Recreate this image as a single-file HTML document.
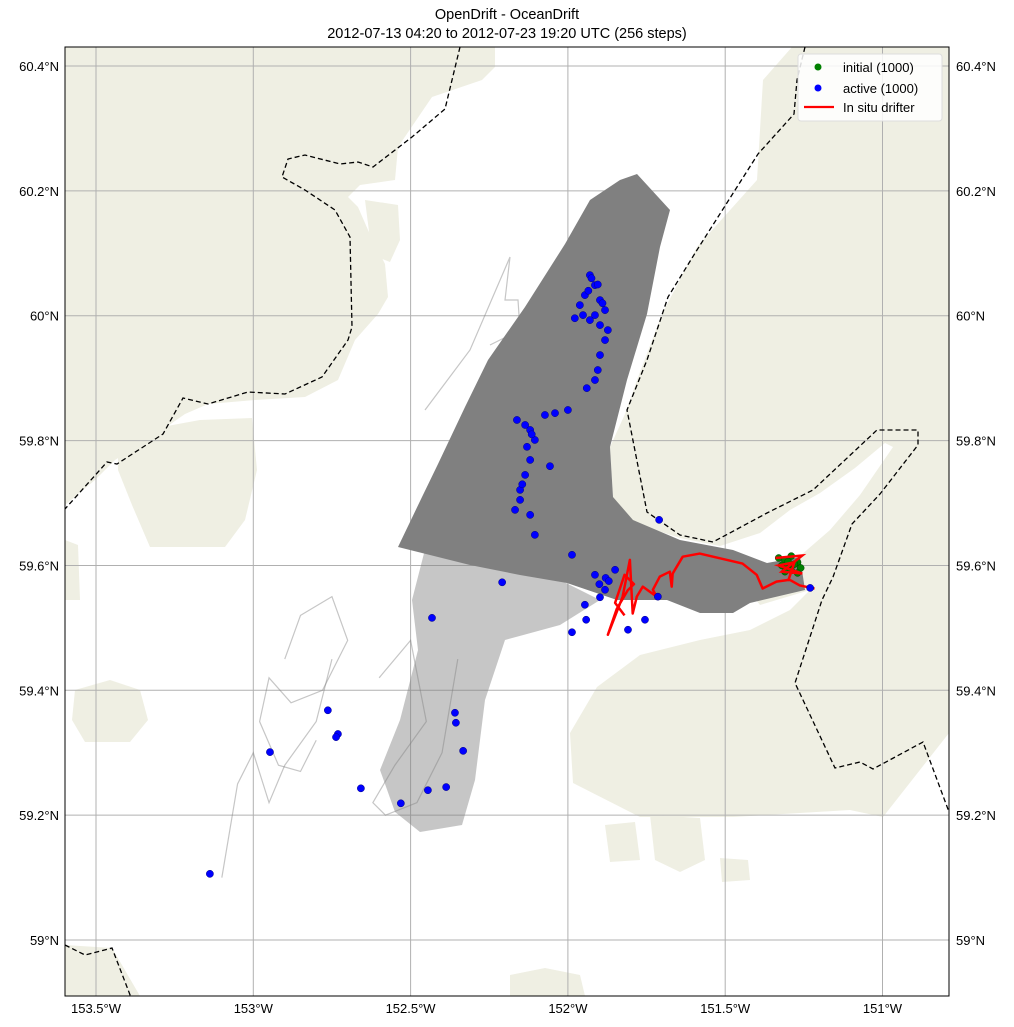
<!DOCTYPE html>
<html><head><meta charset="utf-8">
<style>
html,body{margin:0;padding:0;background:#fff;}
svg{display:block;font-family:"Liberation Sans",sans-serif;}
</style></head>
<body>
<svg id="chart" width="1014" height="1027" viewBox="0 0 1014 1027" xmlns="http://www.w3.org/2000/svg">
<text x="507" y="19" text-anchor="middle" font-size="14.5">OpenDrift - OceanDrift</text>
<text x="507" y="38" text-anchor="middle" font-size="14.5">2012-07-13 04:20 to 2012-07-23 19:20 UTC (256 steps)</text>
<defs><clipPath id="clip"><rect x="65" y="47" width="884" height="949"/></clipPath></defs>
<g clip-path="url(#clip)">
<g fill="#efefe3">
<polygon points="65,47 495,47 495,67 482,80 432,97 398,147 395,180 360,185 348,197 358,207 368,230 385,264 388,297 378,314 355,340 338,380 305,397 255,400 208,404 185,414 162,430 115,460 95,480 65,505"/>
<polygon points="365,200 398,205 400,240 390,262 372,255"/>
<polygon points="118,435 200,420 252,418 257,470 245,520 225,547 150,547 132,505 118,470"/>
<polygon points="65,540 78,545 80,600 65,600"/>
<polygon points="75,690 110,680 140,690 148,720 130,742 85,742 72,720"/>
<polygon points="792,47 949,47 949,733 883,817 850,810 733,817 640,817 573,783 570,733 597,687 640,655 700,640 750,630 790,610 810,590 760,605 740,580 680,560 640,540 613,497 610,447 625,414 637,380 662,314 697,247 757,180 763,80"/>
<polygon fill="#ffffff" points="640,525 700,550 740,565 755,592 775,578 800,556 830,530 860,495 893,447 885,443 855,468 820,493 790,510 760,533 720,546 680,538"/>
<polygon points="605,825 635,822 640,860 610,862"/>
<polygon points="650,815 700,818 705,860 680,872 655,860"/>
<polygon points="720,858 748,860 750,880 722,882"/>
<polygon points="510,975 545,968 580,975 585,996 510,996"/>
<polygon points="65,945 112,948 140,996 65,996"/>
</g>
<g id="grid"></g>
<g>
<polygon fill="#808080" opacity="0.45" points="430,530 470,560 560,580 600,600 560,625 505,640 485,700 475,780 462,825 420,832 395,812 380,770 400,720 418,650 412,600"/>
<polygon fill="#808080" points="398,547 422,497 438,464 465,407 488,360 525,307 565,244 590,200 620,180 637,174 670,210 660,247 647,314 627,380 610,447 613,497 633,520 680,540 733,550 767,563 800,557 805,590 750,603 733,613 700,613 667,600 617,600 567,583 520,575 470,565 430,555"/>
</g>
<g id="tracks"></g>
<polyline fill="none" stroke="#808080" stroke-opacity="0.45" stroke-width="1.2" points="425,410 470,350 510,257 505,300 518,300 520,330 500,340 490,345"/>
<g id="marks"></g>
</g>
<rect x="65" y="47" width="884" height="949" fill="none" stroke="#000" stroke-width="1"/>
<g id="ticks" font-size="13"></g>
<g>
<rect x="798" y="54" width="144" height="67" rx="3" fill="#fff" fill-opacity="0.85" stroke="#ddd"/>
<circle cx="818" cy="67" r="3.5" fill="#008000"/>
<text x="843" y="72" font-size="13">initial (1000)</text>
<circle cx="818" cy="88" r="3.5" fill="#0000ff"/>
<text x="843" y="93" font-size="13">active (1000)</text>
<line x1="804" y1="107" x2="834" y2="107" stroke="#ff0000" stroke-width="2.2"/>
<text x="843" y="112" font-size="13">In situ drifter</text>
</g>
</svg>
<script>
const lonTicks=[-153.5,-153,-152.5,-152,-151.5,-151];
const lonLabels=["153.5°W","153°W","152.5°W","152°W","151.5°W","151°W"];
const latTicks=[60.4,60.2,60.0,59.8,59.6,59.4,59.2,59.0];
const latLabels=["60.4°N","60.2°N","60°N","59.8°N","59.6°N","59.4°N","59.2°N","59°N"];
const activeLon=[-151.930,-151.914,-151.946,-151.898,-151.962,-151.882,-151.914,-151.930,-151.898,-151.873,-151.882,-151.898,-151.905,-151.914,-151.940,-151.978,-151.952,-151.925,-151.935,-151.905,-151.890,
-152.162,-152.136,-152.120,-152.105,-152.120,-152.136,-152.152,-152.168,-152.120,-152.105,-152.152,-152.073,-152.041,-152.000,-152.057,-152.130,-152.115,-152.145,
-151.914,-151.882,-151.850,-151.898,-151.946,-151.987,-152.209,-152.432,-151.942,-151.987,-151.809,-151.755,-151.714,-151.230,-152.763,-152.731,-152.737,-152.947,-152.658,-152.531,-152.445,-152.387,-152.359,-152.356,-152.333,-153.138,-151.900,-151.880,-151.870,-151.710];
const activeLat=[60.065,60.049,60.033,60.025,60.017,60.009,60.001,59.993,59.985,59.977,59.961,59.937,59.913,59.897,59.884,59.996,60.001,60.060,60.040,60.050,60.020,
59.833,59.825,59.817,59.801,59.769,59.745,59.721,59.689,59.681,59.649,59.705,59.841,59.844,59.849,59.759,59.790,59.810,59.730,
59.585,59.561,59.593,59.549,59.537,59.617,59.573,59.516,59.513,59.493,59.497,59.513,59.550,59.564,59.368,59.330,59.325,59.301,59.243,59.219,59.240,59.245,59.364,59.348,59.303,59.106,59.570,59.580,59.575,59.673];
const initLon=[-151.33,-151.31,-151.29,-151.27,-151.32,-151.30,-151.28,-151.26,-151.31,-151.29,-151.27,-151.30];
const initLat=[59.612,59.608,59.615,59.605,59.600,59.598,59.602,59.596,59.590,59.592,59.588,59.606];
const drifterLon=[-151.216,-151.263,-151.295,-151.337,-151.381,-151.400,-151.445,-151.581,-151.635,-151.667,-151.670,-151.676,-151.708,-151.730,-151.718,-151.762,-151.781,-151.794,-151.803,-151.826,-151.873,-151.845,-151.810,-151.790,-151.820,-151.850,-151.820];
const drifterLat=[59.563,59.568,59.577,59.574,59.563,59.585,59.603,59.619,59.614,59.587,59.566,59.590,59.582,59.561,59.550,59.566,59.550,59.523,59.609,59.550,59.489,59.530,59.560,59.570,59.585,59.540,59.520];
const drifterStartLon=[-151.340,-151.255,-151.320,-151.255,-151.330,-151.280,-151.300];
const drifterStartLat=[59.612,59.616,59.590,59.587,59.600,59.605,59.575];
const loopLon=[-152.90,-152.85,-152.75,-152.70,-152.78,-152.88,-152.95,-152.98,-152.92,-152.85,-152.80];
const loopLat=[59.45,59.52,59.55,59.48,59.40,59.38,59.42,59.35,59.28,59.27,59.32];
const loop2Lon=[-152.60,-152.50,-152.45,-152.55,-152.62,-152.58,-152.48,-152.40,-152.35];
const loop2Lat=[59.42,59.48,59.35,59.28,59.22,59.20,59.22,59.30,59.45];
const loop3Lon=[-153.10,-153.05,-153.00,-152.95,-152.90,-152.80,-152.75];
const loop3Lat=[59.10,59.25,59.30,59.22,59.28,59.35,59.45];
const NS='http://www.w3.org/2000/svg';
function xs(lon){return 96+(lon+153.5)*314.6;}
function ys(lat){return 66+(60.4-lat)*624.3;}
const grid=document.getElementById('grid'),ticks=document.getElementById('ticks'),marks=document.getElementById('marks'),tracks=document.getElementById('tracks');
function mk(tag,attrs,parent){const e=document.createElementNS(NS,tag);for(const k in attrs)e.setAttribute(k,attrs[k]);parent.appendChild(e);return e;}
lonTicks.forEach((v,i)=>{
 const l=mk('line',{x1:xs(v),x2:xs(v),y1:47,y2:996,stroke:'#b0b0b0','stroke-width':1},grid);
 
 
 const t=mk('text',{x:xs(v),y:1013,'text-anchor':'middle'},ticks);t.textContent=lonLabels[i];
 
 
});
latTicks.forEach((v,i)=>{
 const l=mk('line',{x1:65,x2:949,y1:ys(v),y2:ys(v),stroke:'#b0b0b0','stroke-width':1},grid);
 
 
 const t=mk('text',{x:59,y:ys(v)+5,'text-anchor':'end'},ticks);t.textContent=latLabels[i];
 
 
 const t2=mk('text',{x:956,y:ys(v)+5},ticks);t2.textContent=latLabels[i];
 
 
});
const dashW=[[460,47],[445,109],[412,137],[373,167],[358,162],[340,164],[305,155],[288,159],[282,177],[305,190],[335,210],[350,237],[352,327],[348,340],[322,377],[285,394],[248,392],[208,404],[183,398],[163,434],[117,464],[107,462],[65,509]];
const dashE=[[805,47],[797,80],[794,114],[758,154],[697,250],[668,297],[647,360],[627,410],[647,512],[680,535],[713,542],[767,513],[813,490],[877,430],[918,430],[918,445],[880,494],[852,524],[833,577],[822,600],[795,683],[835,768],[860,762],[873,769],[923,742],[952,820]];
const dashSW=[[65,945],[85,955],[112,948],[132,1000]];
[[dashW,'boundary-west'],[dashE,'boundary-east'],[dashSW,'boundary-southwest']].forEach(([pts,n])=>{
 const p=mk('polyline',{points:pts.map(q=>q.join(',')).join(' '),fill:'none',stroke:'#000','stroke-width':1.3,'stroke-dasharray':'5,3'},grid);
 
 
});
function line(lons,lats,attrs,parent){return mk('polyline',Object.assign({points:lons.map((v,i)=>xs(v)+','+ys(lats[i])).join(' '),fill:'none'},attrs),parent);}
[[loopLon,loopLat],[loop2Lon,loop2Lat],[loop3Lon,loop3Lat]].forEach(([a,b])=>{
 const p=line(a,b,{stroke:'#808080','stroke-opacity':0.45,'stroke-width':1.2},tracks);
 
 
});
const dr=line(drifterLon,drifterLat,{stroke:'#ff0000','stroke-width':2.5,'stroke-linejoin':'round'},marks);


initLon.forEach((v,i)=>{
 const c=mk('circle',{cx:xs(v),cy:ys(initLat[i]),r:3.5,fill:'#008000',stroke:'#004000','stroke-width':0.5},marks);
 
 
});
const ds=line(drifterStartLon,drifterStartLat,{stroke:'#ff0000','stroke-width':2.5},marks);


activeLon.forEach((v,i)=>{
 const c=mk('circle',{cx:xs(v),cy:ys(activeLat[i]),r:3.6,fill:'#0000ff',stroke:'#000080','stroke-width':0.5},marks);
 
 
});
</script>
</body></html>
